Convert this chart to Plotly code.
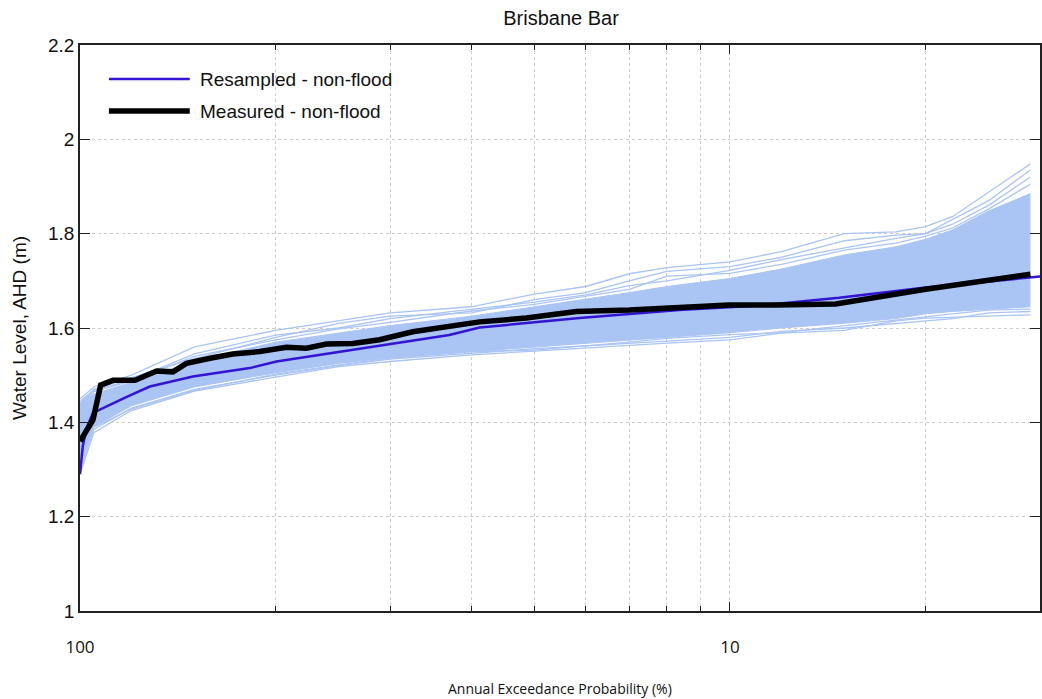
import plotly.graph_objects as go

# ---- data -------------------------------------------------------------
# Horizontal position (log axis, 1..30); labelled "100" at 1 and "10" at 10
ens_x = [1, 1.05, 1.2, 1.5, 2, 2.5, 3, 4, 5, 6, 7, 8, 10, 12, 15, 18, 20, 22, 25, 29]

# Dense core of the resampled ensemble
core_upper = [1.44, 1.46, 1.485, 1.53, 1.57, 1.59, 1.605, 1.625, 1.645, 1.66, 1.675,
              1.688, 1.705, 1.725, 1.755, 1.772, 1.788, 1.808, 1.848, 1.885]
core_lower = [1.31, 1.39, 1.435, 1.475, 1.505, 1.525, 1.537, 1.55, 1.56, 1.568, 1.575,
              1.58, 1.59, 1.60, 1.61, 1.62, 1.63, 1.635, 1.64, 1.645]

# Individual resampled realisations around the edges of the ensemble
realisations = {
    "u1": [1.45, 1.475, 1.50, 1.56, 1.595, 1.615, 1.632, 1.645, 1.672, 1.688, 1.715,
           1.728, 1.74, 1.762, 1.80, 1.804, 1.815, 1.836, 1.888, 1.948],
    "u2": [1.445, 1.468, 1.49, 1.545, 1.585, 1.60, 1.62, 1.64, 1.655, 1.67, 1.69,
           1.70, 1.722, 1.745, 1.77, 1.79, 1.80, 1.82, 1.86, 1.92],
    "u3": [1.44, 1.47, 1.495, 1.535, 1.58, 1.61, 1.625, 1.632, 1.66, 1.675, 1.70,
           1.72, 1.73, 1.75, 1.785, 1.797, 1.80, 1.83, 1.87, 1.935],
    "u4": [1.438, 1.465, 1.488, 1.54, 1.575, 1.598, 1.612, 1.636, 1.65, 1.668, 1.682,
           1.71, 1.716, 1.735, 1.765, 1.78, 1.795, 1.812, 1.852, 1.905],
    "l1": [1.29, 1.378, 1.425, 1.466, 1.496, 1.518, 1.529, 1.543, 1.551, 1.558, 1.564,
           1.568, 1.575, 1.589, 1.595, 1.615, 1.621, 1.623, 1.626, 1.628],
    "l2": [1.30, 1.385, 1.43, 1.47, 1.50, 1.52, 1.534, 1.546, 1.556, 1.562, 1.568,
           1.572, 1.58, 1.593, 1.60, 1.61, 1.615, 1.62, 1.632, 1.635],
    "l3": [1.32, 1.39, 1.428, 1.468, 1.502, 1.522, 1.536, 1.55, 1.553, 1.562, 1.57,
           1.578, 1.586, 1.59, 1.605, 1.618, 1.625, 1.63, 1.638, 1.64],
}

# Median of the resampled series
resampled_x = [1.0, 1.01, 1.025, 1.047, 1.18, 1.281, 1.492, 1.825, 2.006, 2.60, 3.70,
               4.12, 5.87, 8.36, 10.96, 14.72, 16.55, 20.0, 30.0]
resampled_y = [1.29, 1.35, 1.39, 1.42, 1.454, 1.476, 1.497, 1.515, 1.529, 1.553, 1.585,
               1.601, 1.621, 1.638, 1.647, 1.664, 1.672, 1.686, 1.709]

# Measured record
measured_x = [1.0, 1.047, 1.076, 1.124, 1.215, 1.312, 1.39, 1.458, 1.585, 1.718, 1.891,
              2.078, 2.23, 2.394, 2.628, 2.89, 3.25, 4.12, 4.86, 5.80, 7.0, 8.36, 9.97,
              11.77, 14.55, 20.0, 29.0]
measured_y = [1.36, 1.405, 1.479, 1.489, 1.489, 1.509, 1.507, 1.525, 1.536, 1.545, 1.55,
              1.559, 1.557, 1.566, 1.567, 1.575, 1.592, 1.613, 1.621, 1.635, 1.638, 1.644,
              1.649, 1.649, 1.651, 1.682, 1.714]

x_tick_vals = [1, 10]
x_tick_text = ["100", "10"]
y_tick_vals = [1, 1.2, 1.4, 1.6, 1.8, 2, 2.2]
y_tick_text = ["1", "1.2", "1.4", "1.6", "1.8", "2", "2.2"]

legend_labels = ["Resampled - non-flood", "Measured - non-flood"]

# ---- styling ----------------------------------------------------------
ENS_COLOR = "#aac4f4"
MED_COLOR = "#3214d2"
GRID = "#cccccc"
AX_FONT = "Liberation Sans, Arial, sans-serif"
X_FONT = "Open Sans, sans-serif"

fig = go.Figure()

# ensemble core band
fig.add_trace(go.Scatter(x=ens_x, y=core_lower, mode="lines",
                         line=dict(color=ENS_COLOR, width=1),
                         showlegend=False, hoverinfo="skip"))
fig.add_trace(go.Scatter(x=ens_x, y=core_upper, mode="lines", fill="tonexty",
                         fillcolor=ENS_COLOR, line=dict(color=ENS_COLOR, width=1),
                         showlegend=False, hoverinfo="skip"))

for name, vals in realisations.items():
    fig.add_trace(go.Scatter(x=ens_x, y=vals, mode="lines", name=name,
                             line=dict(color=ENS_COLOR, width=1.3),
                             showlegend=False, hoverinfo="skip"))

fig.add_trace(go.Scatter(x=resampled_x, y=resampled_y, mode="lines",
                         name=legend_labels[0], line=dict(color=MED_COLOR, width=2.5),
                         showlegend=False))
fig.add_trace(go.Scatter(x=measured_x, y=measured_y, mode="lines",
                         name=legend_labels[1], line=dict(color="black", width=5.5),
                         showlegend=False))

# legend drawn in the upper-left corner of the plot
L, R, T, B = 80, 0, 45, 88
W, H = 1042, 699
pw, ph = W - L - R, H - T - B


def px_x(px):
    return (px - L) / pw


def px_y(py):
    return (H - B - py) / ph


legend_rows = [(legend_labels[0], MED_COLOR, 2.5, 79), (legend_labels[1], "black", 5.5, 111)]
for label, col, wd, py in legend_rows:
    fig.add_shape(type="line", xref="paper", yref="paper",
                  x0=px_x(109), x1=px_x(190), y0=px_y(py), y1=px_y(py),
                  line=dict(color=col, width=wd))
    fig.add_annotation(xref="paper", yref="paper", x=px_x(198), y=px_y(py),
                       text=label, showarrow=False, xanchor="left", yanchor="middle",
                       font=dict(family=AX_FONT, size=19, color="#111"))

fig.add_annotation(xref="paper", yref="paper", x=px_x(561), y=px_y(688),
                   text="Annual Exceedance Probability (%)", showarrow=False,
                   xanchor="center", yanchor="middle",
                   font=dict(family=X_FONT, size=14, color="#111"))

fig.update_layout(
    width=W, height=H,
    margin=dict(l=L, r=R, t=T, b=B),
    paper_bgcolor="white", plot_bgcolor="white",
    title=dict(text="Brisbane Bar", x=561 / W, xanchor="center",
               y=1 - 18 / H, yanchor="middle",
               font=dict(family=AX_FONT, size=20, color="#111")),
)

fig.update_xaxes(
    type="log", range=[0, 1.4771],
    tickmode="array", tickvals=x_tick_vals, ticktext=x_tick_text,
    ticks="inside", ticklen=9, tickwidth=1.2, tickcolor="#222",
    showline=True, linecolor="#222", linewidth=1.5, mirror="ticks",
    showgrid=True, gridcolor=GRID, griddash="dot", gridwidth=1,
    minor=dict(dtick="D1", ticks="inside", ticklen=5, tickcolor="#222",
               showgrid=True, gridcolor=GRID, griddash="dot", gridwidth=1),
    tickfont=dict(family=X_FONT, size=17, color="#111"),
    ticklabelstandoff=20,
    zeroline=False,
)

fig.update_yaxes(
    range=[1, 2.2],
    tickmode="array", tickvals=y_tick_vals, ticktext=y_tick_text,
    ticks="inside", ticklen=10, tickwidth=1.2, tickcolor="#222",
    showline=True, linecolor="#222", linewidth=1.5, mirror="ticks",
    showgrid=True, gridcolor=GRID, griddash="dot", gridwidth=1,
    tickfont=dict(family=AX_FONT, size=19, color="#111"),
    title=dict(text="Water Level, AHD (m)", standoff=16,
               font=dict(family=AX_FONT, size=19, color="#111")),
    zeroline=False,
)

fig.write_html("out.html")
